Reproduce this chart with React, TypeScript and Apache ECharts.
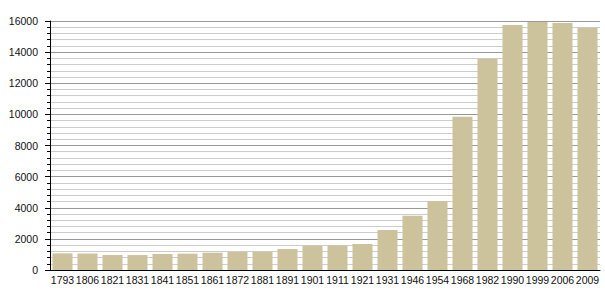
import React, { useEffect, useRef } from "react";
import * as echarts from "echarts";

const years = ["1793","1806","1821","1831","1841","1851","1861","1872","1881","1891","1901","1911","1921","1931","1946","1954","1968","1982","1990","1999","2006","2009"];
const population = [1070,1060,965,960,1030,1050,1110,1160,1180,1350,1560,1580,1670,2570,3490,4430,9850,13580,15740,15940,15870,15570];
const yTicks = { min: 0, max: 16000, interval: 2000 };

export default function App() {
  const ref = useRef<HTMLDivElement>(null);
  useEffect(() => {
    const chart = echarts.init(ref.current!, null, { renderer: "svg" });
    chart.setOption({
      animation: false,
      grid: { left: 50, right: 5, top: 21, bottom: 30 },
      xAxis: {
        type: "category",
        data: years,
        axisLine: { lineStyle: { color: "#000", width: 1 } },
        axisTick: { show: false },
        axisLabel: { color: "#111", fontSize: 10.5, fontFamily: "Liberation Sans, Arial, sans-serif", margin: 4, interval: 0 },
      },
      yAxis: {
        type: "value",
        min: yTicks.min,
        max: yTicks.max,
        interval: yTicks.interval,
        axisLine: { show: true, lineStyle: { color: "#000", width: 1 } },
        axisTick: { show: true, length: 5, lineStyle: { color: "#000" } },
        minorTick: { show: true, splitNumber: 5, length: 3, lineStyle: { color: "#000" } },
        axisLabel: { color: "#111", fontSize: 10.5, fontFamily: "Liberation Sans, Arial, sans-serif", margin: 12, formatter: (v: number) => String(v) },
        splitLine: { show: true, lineStyle: { color: "#999", width: 1 } },
        minorSplitLine: { show: true, lineStyle: { color: "#ccc", width: 1 } },
      },
      series: [
        {
          type: "bar",
          data: population,
          barCategoryGap: "20%",
          itemStyle: { color: "#ccc29c" },
          z: 3,
        },
      ],
    });
    return () => chart.dispose();
  }, []);
  return <div ref={ref} style={{ position: "fixed", left: 0, top: 0, width: 605, height: 300, background: "#fff" }} />;
}
